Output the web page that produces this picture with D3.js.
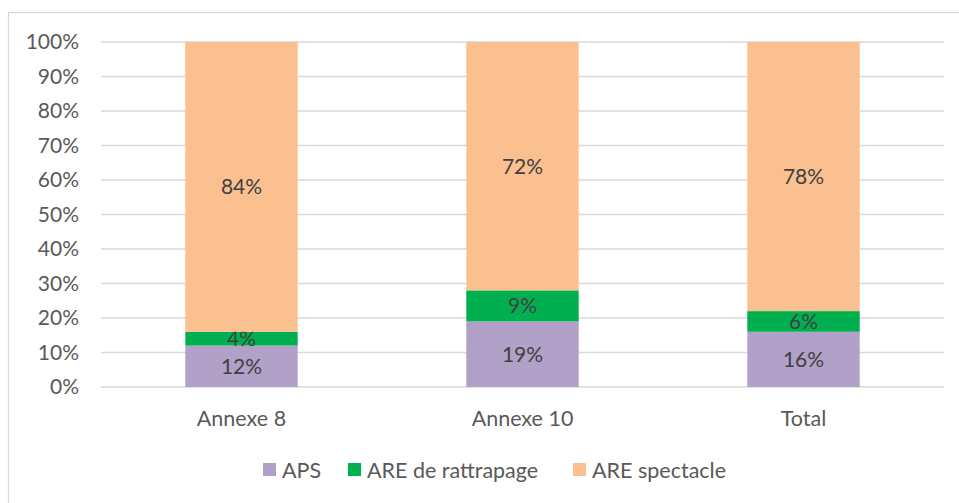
<!DOCTYPE html>
<html>
<head>
<meta charset="utf-8">
<script src="https://cdn.jsdelivr.net/npm/d3@7"></script>
<style>
  body { margin: 0; background: #fff; }
  text { font-family: Lato, "Open Sans", sans-serif; }
</style>
</head>
<body>
<div id="chart"></div>
<script>
var categories = ["Annexe 8", "Annexe 10", "Total"];
var seriesNames = ["APS", "ARE de rattrapage", "ARE spectacle"];
var aps = [12, 19, 16];
var rattrapage = [4, 9, 6];
var spectacle = [84, 72, 78];
var yTicks = [0, 10, 20, 30, 40, 50, 60, 70, 80, 90, 100];
var colors = ["#B1A0C7", "#00B050", "#FAC090"];

var width = 959, height = 503;
var margin = {left: 101, right: 15, top: 42, bottom: 116};

var svg = d3.select("#chart").append("svg")
    .attr("width", width)
    .attr("height", height);

// chart border (clipped at right/bottom like the screenshot)
svg.append("rect")
    .attr("x", 8.5).attr("y", 12.5)
    .attr("width", 960).attr("height", 500)
    .attr("fill", "none")
    .attr("stroke", "#D9D9D9")
    .attr("stroke-width", 1.3);

var x = d3.scaleBand()
    .domain(categories)
    .range([margin.left, width - margin.right])
    .paddingInner(0.6)
    .paddingOuter(0.3);

var y = d3.scaleLinear()
    .domain([0, 100])
    .range([height - margin.bottom, margin.top]);

// gridlines
svg.selectAll(".grid")
    .data(yTicks)
    .enter()
    .append("line")
    .attr("x1", margin.left)
    .attr("x2", width - margin.right)
    .attr("y1", function(d) { return y(d); })
    .attr("y2", function(d) { return y(d); })
    .attr("stroke", "#D9D9D9")
    .attr("stroke-width", 1.3);

// y axis labels
var yAxis = d3.axisLeft(y).tickValues(yTicks).tickSize(0).tickPadding(0)
    .tickFormat(function(d) { return d + "%"; });
var yg = svg.append("g")
    .attr("transform", "translate(79,0)")
    .call(yAxis);
yg.select(".domain").remove();
yg.selectAll("text")
    .attr("fill", "#595959")
    .style("font-size", "21px")
    .style("font-family", "Lato, 'Open Sans', sans-serif");

// x axis labels
var xAxis = d3.axisBottom(x).tickSize(0).tickPadding(0);
var xg = svg.append("g")
    .attr("transform", "translate(0,411)")
    .call(xAxis);
xg.select(".domain").remove();
xg.selectAll("text")
    .attr("fill", "#595959")
    .style("font-size", "21.5px")
    .style("font-family", "Lato, 'Open Sans', sans-serif");

// stacked data
var rows = categories.map(function(c, i) {
    return {cat: c, "APS": aps[i], "ARE de rattrapage": rattrapage[i], "ARE spectacle": spectacle[i]};
});
var stack = d3.stack().keys(seriesNames);
var layers = stack(rows);

var groups = svg.selectAll(".layer")
    .data(layers)
    .enter()
    .append("g")
    .attr("fill", function(d, i) { return colors[i]; });

groups.selectAll("rect")
    .data(function(d) { return d; })
    .enter()
    .append("rect")
    .attr("x", function(d) { return x(d.data.cat); })
    .attr("width", x.bandwidth())
    .attr("y", function(d) { return y(d[1]); })
    .attr("height", function(d) { return y(d[0]) - y(d[1]); });

// data labels
groups.selectAll(".lbl")
    .data(function(d) { return d; })
    .enter()
    .append("text")
    .attr("x", function(d) { return x(d.data.cat) + x.bandwidth() / 2; })
    .attr("y", function(d) { return (y(d[0]) + y(d[1])) / 2; })
    .attr("dy", "0.35em")
    .attr("text-anchor", "middle")
    .attr("fill", "#404040")
    .style("font-size", "21px")
    .text(function(d) { return Math.round(d[1] - d[0]) + "%"; });

// legend
var legendX = [263, 348, 573];
var legend = svg.selectAll(".legend")
    .data(seriesNames)
    .enter()
    .append("g")
    .attr("transform", function(d, i) { return "translate(" + legendX[i] + ",463)"; });
legend.append("rect")
    .attr("width", 13).attr("height", 13)
    .attr("fill", function(d, i) { return colors[i]; });
legend.append("text")
    .attr("x", 19).attr("y", 7)
    .attr("dy", "0.35em")
    .attr("fill", "#595959")
    .style("font-size", "21.5px")
    .text(function(d) { return d; });
</script>
</body>
</html>
